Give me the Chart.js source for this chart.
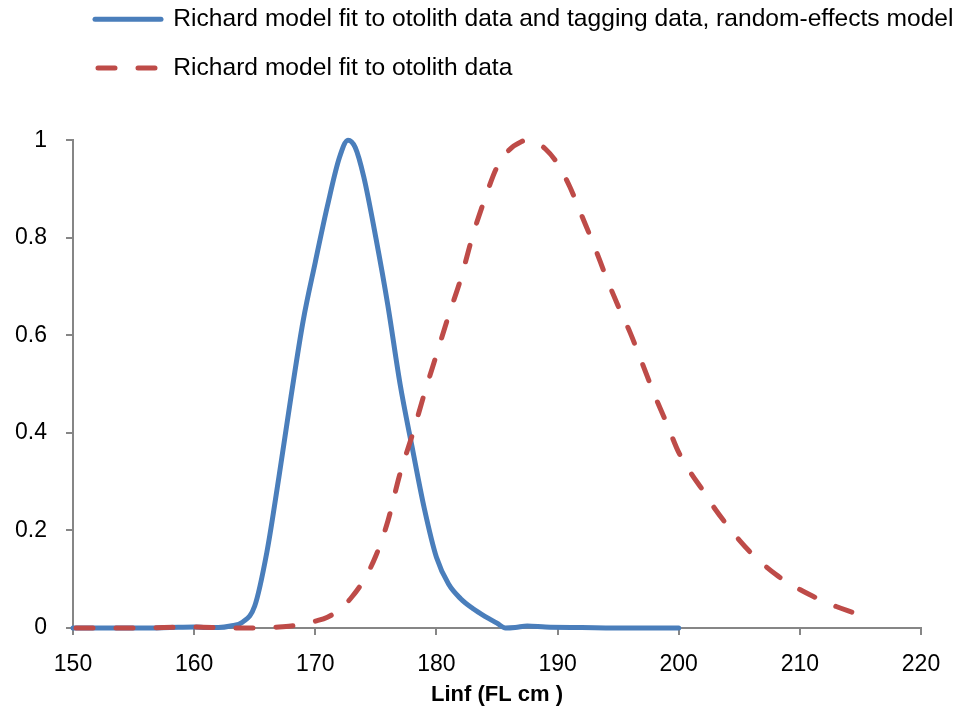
<!DOCTYPE html>
<html>
<head>
<meta charset="utf-8">
<script src="https://cdn.jsdelivr.net/npm/chart.js@4"></script>
<style>
  html, body { margin: 0; padding: 0; background: #fff; }
  #wrap { width: 964px; height: 714px; }
</style>
</head>
<body>
<div id="wrap"><canvas id="grafica" width="964" height="714"></canvas></div>
<script>
// Datos
const blueLabel = "Richard model fit to otolith data and tagging data, random-effects model";
const redLabel = "Richard model fit to otolith data";

const blueX = [150,152,154,156,158,160,161,162,163,164,165,166,167,168,169,170,171,172,172.7,173.3,174,175,176,177,178,179,180,181,182,183,184,185,185.7,186.5,187.5,189,192,196,200];
const blueY = [0,0,0,0,0.001,0.002,0.001,0.001,0.004,0.012,0.045,0.155,0.31,0.475,0.63,0.75,0.865,0.965,1.0,0.985,0.925,0.8,0.66,0.5,0.37,0.245,0.145,0.09,0.06,0.04,0.024,0.01,0,0.001,0.004,0.002,0.001,0,0];

const redX = [150,155,160,163,165,166,167,168,169,170,171,172,173,174,175,176,177,178,179,180,181,182,183,184,185,186,187,187.5,188,189,190,191,192,193,194,195,196,197,198,199,200,201,202,203,204,205,206,207,208,209,210,211,212,213,214,215];
const redY = [0,0,0.002,0,0,0.001,0.002,0.004,0.008,0.014,0.022,0.038,0.063,0.098,0.148,0.22,0.317,0.395,0.48,0.56,0.64,0.715,0.805,0.88,0.945,0.98,0.997,1.0,0.998,0.982,0.952,0.905,0.845,0.785,0.72,0.66,0.605,0.542,0.478,0.42,0.36,0.318,0.282,0.244,0.211,0.18,0.153,0.13,0.11,0.093,0.079,0.066,0.054,0.044,0.035,0.027];

const xTitle = "Linf (FL cm )";

const toPoints = (xs, ys) => xs.map((x, i) => ({x: x, y: ys[i]}));

const FONT = "'Liberation Sans', Arial, sans-serif";
const AXIS_GRAY = "#868686";

// mover la leyenda a la izquierda/arriba como en el original
const legendShift = {
  id: 'legendShift',
  afterLayout(chart) {
    const lg = chart.legend;
    if (!lg) return;
    lg.left += 71; lg.right += 71;
    lg.top -= 50; lg.bottom -= 50;
  }
};

const ctx = document.getElementById("grafica").getContext("2d");
const chart = new Chart(ctx, {
  type: 'line',
  data: {
    datasets: [{
      label: blueLabel,
      data: toPoints(blueX, blueY),
      borderColor: "#4A7EBB",
      backgroundColor: "#4A7EBB",
      borderWidth: 5,
      borderCapStyle: 'round',
      pointRadius: 0,
      cubicInterpolationMode: 'monotone',
      clip: false,
      order: 1
    }, {
      label: redLabel,
      data: toPoints(redX, redY),
      borderColor: "#BE4B48",
      backgroundColor: "#BE4B48",
      borderWidth: 5,
      borderDash: [17, 23],
      borderDashOffset: 37,
      borderCapStyle: 'round',
      pointRadius: 0,
      cubicInterpolationMode: 'monotone',
      clip: false,
      order: 0
    }]
  },
  options: {
    responsive: false,
    animation: false,
    layout: { padding: { top: 33, left: 0, right: 43, bottom: 6 } },
    plugins: {
      tooltip: { enabled: false },
      legend: {
        position: 'top',
        align: 'start',
        labels: {
          usePointStyle: true,
          pointStyle: 'line',
          pointStyleWidth: 66,
          padding: 24,
          color: '#000',
          font: { family: FONT, size: 24.6 },
          sort: (a, b) => a.datasetIndex - b.datasetIndex,
          generateLabels: (chart) => {
            const items = Chart.defaults.plugins.legend.labels.generateLabels(chart);
            items.forEach(it => {
              const ds = chart.data.datasets[it.datasetIndex];
              it.lineDash = ds.borderDash || [];
              it.lineDashOffset = ds.borderDashOffset || 0;
              it.lineWidth = ds.borderWidth;
              it.strokeStyle = ds.borderColor;
              it.lineCap = 'round';
              it.pointStyle = 'line';
            });
            return items;
          }
        }
      }
    },
    scales: {
      x: {
        type: 'linear',
        min: 150,
        max: 220,
        ticks: { stepSize: 10, color: '#000', padding: 16, font: { family: FONT, size: 23 } },
        grid: { drawOnChartArea: false, drawTicks: true, tickLength: 7, color: AXIS_GRAY, lineWidth: 2 },
        border: { color: AXIS_GRAY, width: 2 },
        title: { display: true, text: xTitle, color: '#000', font: { family: FONT, size: 22, weight: 'bold' }, padding: { top: -13, bottom: 0 } }
      },
      y: {
        min: 0,
        max: 1,
        ticks: {
          stepSize: 0.2, color: '#000', padding: 19, font: { family: FONT, size: 23 },
          callback: (v) => String(+v.toFixed(1))
        },
        grid: { drawOnChartArea: false, drawTicks: true, tickLength: 7, color: AXIS_GRAY, lineWidth: 2 },
        border: { color: AXIS_GRAY, width: 2 },
        afterFit: (scale) => { scale.width = 73; }
      }
    }
  },
  plugins: [legendShift]
});
</script>
</body>
</html>
